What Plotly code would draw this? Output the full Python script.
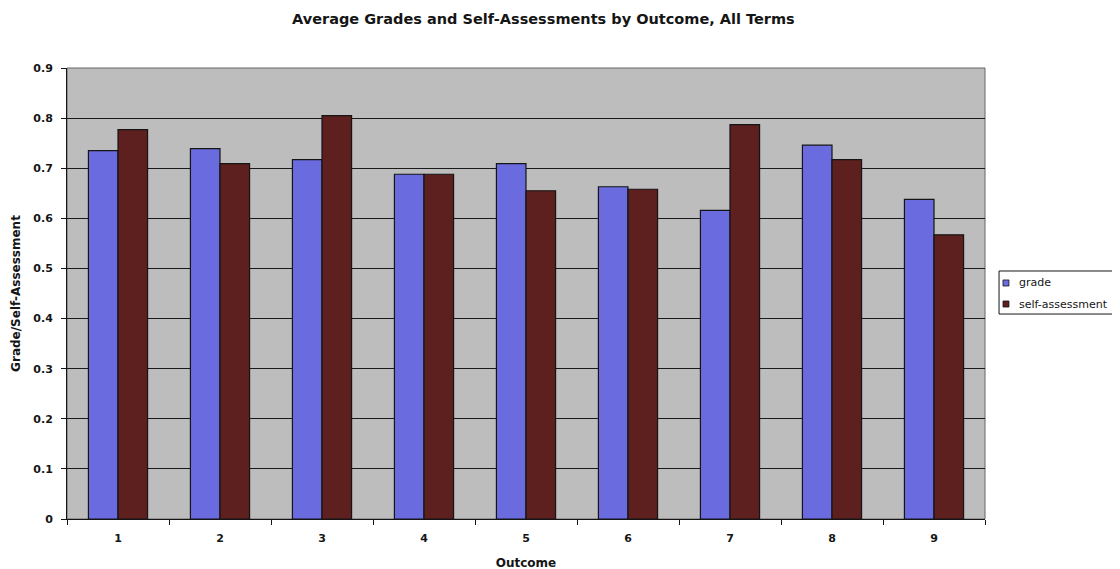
import plotly.graph_objects as go

outcomes = ["1", "2", "3", "4", "5", "6", "7", "8", "9"]
grade = [0.735, 0.739, 0.717, 0.688, 0.709, 0.663, 0.616, 0.746, 0.638]
self_assessment = [0.777, 0.709, 0.805, 0.688, 0.655, 0.658, 0.787, 0.717, 0.567]
series_names = ["grade", "self-assessment"]
series_colors = ["#6b6be0", "#5e1f1f"]
y_ticks = [0, 0.1, 0.2, 0.3, 0.4, 0.5, 0.6, 0.7, 0.8, 0.9]
y_tick_text = ["0", "0.1", "0.2", "0.3", "0.4", "0.5", "0.6", "0.7", "0.8", "0.9"]

FONT = "DejaVu Sans, Liberation Sans, sans-serif"
INK = "#151515"

fig = go.Figure()
for name, vals, col in zip(series_names, [grade, self_assessment], series_colors):
    fig.add_trace(go.Bar(x=outcomes, y=vals, name=name,
                         marker=dict(color=col, line=dict(color=INK, width=1.2))))

fig.update_layout(
    width=1120, height=569,
    paper_bgcolor="white",
    plot_bgcolor="#bdbdbd",
    margin=dict(l=59, r=143, t=60, b=58),
    barmode="group", bargap=0.42, bargroupgap=0,
    showlegend=False,
    font=dict(family=FONT, color=INK),
    title=dict(text="<b>Average Grades and Self-Assessments by Outcome, All Terms</b>",
               x=0.478, xanchor="center", y=0.981, yanchor="middle",
               font=dict(size=14.5, family=FONT, color=INK)),
    xaxis=dict(title=dict(text="<b>Outcome</b>", font=dict(size=12, family=FONT), standoff=14),
               tickfont=dict(size=11, family=FONT, weight="bold"),
               ticks="outside", tickson="boundaries", ticklen=5, tickcolor=INK,
               ticklabelstandoff=9, automargin=False,
               showline=True, linecolor=INK, linewidth=1, mirror=False,
               showgrid=False),
    yaxis=dict(title=dict(text="<b>Grade/Self-Assessment</b>", font=dict(size=12, family=FONT), standoff=10),
               range=[0, 0.9], tickvals=y_ticks, ticktext=y_tick_text,
               tickfont=dict(size=11, family=FONT, weight="bold"),
               ticks="outside", ticklen=5, tickcolor=INK, ticklabelstandoff=6,
               automargin=False,
               showline=True, linecolor=INK, linewidth=1,
               showgrid=True, gridcolor="#1a1a1a", gridwidth=1, zeroline=False),
)
fig.add_shape(type="rect", xref="paper", yref="paper", x0=0, x1=1, y0=0, y1=1,
              line=dict(color="#666666", width=1), layer="below")

# legend box (drawn manually to match the compact original legend)
fig.add_shape(type="rect", xref="paper", yref="paper", x0=1.0153, x1=1.1449, y0=0.4545, y1=0.5499,
              line=dict(color=INK, width=1), fillcolor="white")
row_y = [0.5233, 0.4767]
for name, col, yc in zip(series_names, series_colors, row_y):
    fig.add_shape(type="rect", xref="paper", yref="paper",
                  x0=1.0196, x1=1.0261, y0=yc - 0.0067, y1=yc + 0.0067,
                  line=dict(color=INK, width=0.8), fillcolor=col)
    fig.add_annotation(xref="paper", yref="paper", x=1.0349, y=yc, text=name,
                       showarrow=False, xanchor="left", yanchor="middle",
                       font=dict(size=11, family=FONT, color=INK))

fig.write_html("out.html")
